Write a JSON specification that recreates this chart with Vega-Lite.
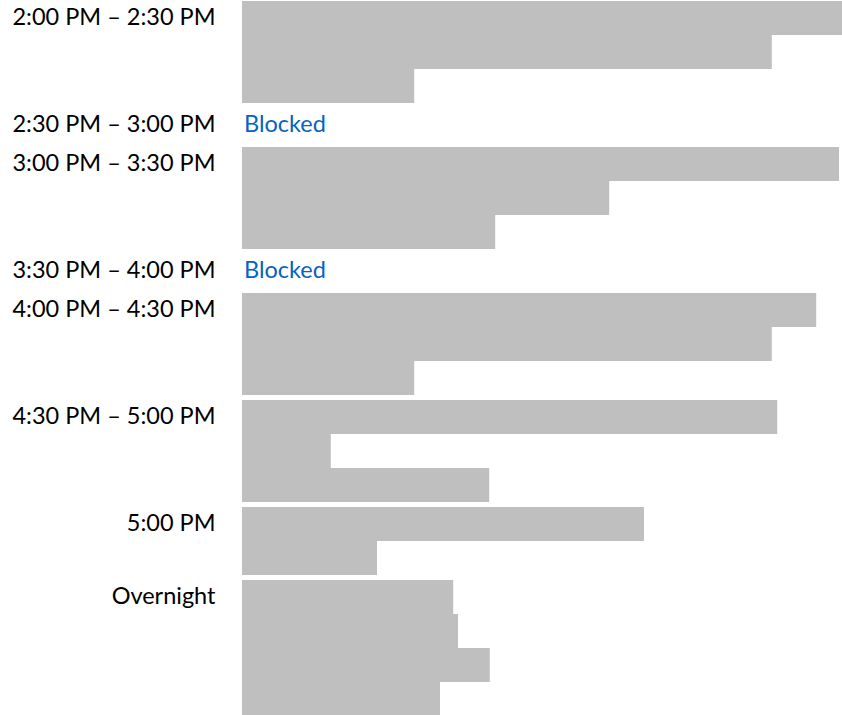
{
  "$schema": "https://vega.github.io/schema/vega-lite/v6.json",
  "padding": {"left": 10, "top": 1, "right": 0, "bottom": 0},
  "background": "white",
  "data": {
    "values": [
      {"slot": "2:00 PM – 2:30 PM", "bar": 1, "value": 100},
      {"slot": "2:00 PM – 2:30 PM", "bar": 2, "value": 88.3},
      {"slot": "2:00 PM – 2:30 PM", "bar": 3, "value": 28.7},
      {"slot": "2:30 PM – 3:00 PM", "bar": 1, "value": 0, "note": "Blocked"},
      {"slot": "3:00 PM – 3:30 PM", "bar": 1, "value": 99.5},
      {"slot": "3:00 PM – 3:30 PM", "bar": 2, "value": 61.2},
      {"slot": "3:00 PM – 3:30 PM", "bar": 3, "value": 42.2},
      {"slot": "3:30 PM – 4:00 PM", "bar": 1, "value": 0, "note": "Blocked"},
      {"slot": "4:00 PM – 4:30 PM", "bar": 1, "value": 95.7},
      {"slot": "4:00 PM – 4:30 PM", "bar": 2, "value": 88.3},
      {"slot": "4:00 PM – 4:30 PM", "bar": 3, "value": 28.7},
      {"slot": "4:30 PM – 5:00 PM", "bar": 1, "value": 89.2},
      {"slot": "4:30 PM – 5:00 PM", "bar": 2, "value": 14.8},
      {"slot": "4:30 PM – 5:00 PM", "bar": 3, "value": 41.2},
      {"slot": "5:00 PM", "bar": 1, "value": 67},
      {"slot": "5:00 PM", "bar": 2, "value": 22.5},
      {"slot": "Overnight", "bar": 1, "value": 35.2},
      {"slot": "Overnight", "bar": 2, "value": 36},
      {"slot": "Overnight", "bar": 3, "value": 41.3},
      {"slot": "Overnight", "bar": 4, "value": 33}
    ]
  },
  "transform": [{"calculate": "datum.slot + '|' + datum.bar", "as": "key"}],
  "facet": {
    "row": {
      "field": "slot",
      "type": "nominal",
      "sort": ["2:00 PM – 2:30 PM", "2:30 PM – 3:00 PM", "3:00 PM – 3:30 PM", "3:30 PM – 4:00 PM", "4:00 PM – 4:30 PM", "4:30 PM – 5:00 PM", "5:00 PM", "Overnight"],
      "header": {"title": null, "labels": false}
    }
  },
  "spacing": 5,
  "resolve": {"scale": {"y": "independent"}},
  "spec": {
    "width": 600,
    "height": {"step": 34},
    "encoding": {
      "y": {
        "field": "key",
        "type": "nominal",
        "sort": "ascending",
        "scale": {"paddingInner": 0, "paddingOuter": 0},
        "axis": {
          "title": null,
          "domain": false,
          "ticks": false,
          "labelExpr": "split(datum.value, '|')[1] == '1' ? split(datum.value, '|')[0] : ''",
          "labelFont": "Lato",
          "labelFontSize": 23.5,
          "labelColor": "#000000",
          "labelPadding": 27,
          "labelLimit": 400,
          "minExtent": 232,
          "maxExtent": 232
        }
      }
    },
    "layer": [
      {
        "mark": {"type": "bar", "color": "#BFBFBF"},
        "encoding": {
          "x": {"field": "value", "type": "quantitative", "scale": {"domain": [0, 100]}, "axis": null}
        }
      },
      {
        "transform": [{"filter": "datum.note != null"}],
        "mark": {"type": "text", "align": "left", "dx": 2, "color": "#0563C1", "font": "Lato", "fontSize": 23.5},
        "encoding": {
          "x": {"field": "value", "type": "quantitative"},
          "text": {"field": "note"}
        }
      }
    ]
  },
  "config": {"view": {"stroke": null}}
}
